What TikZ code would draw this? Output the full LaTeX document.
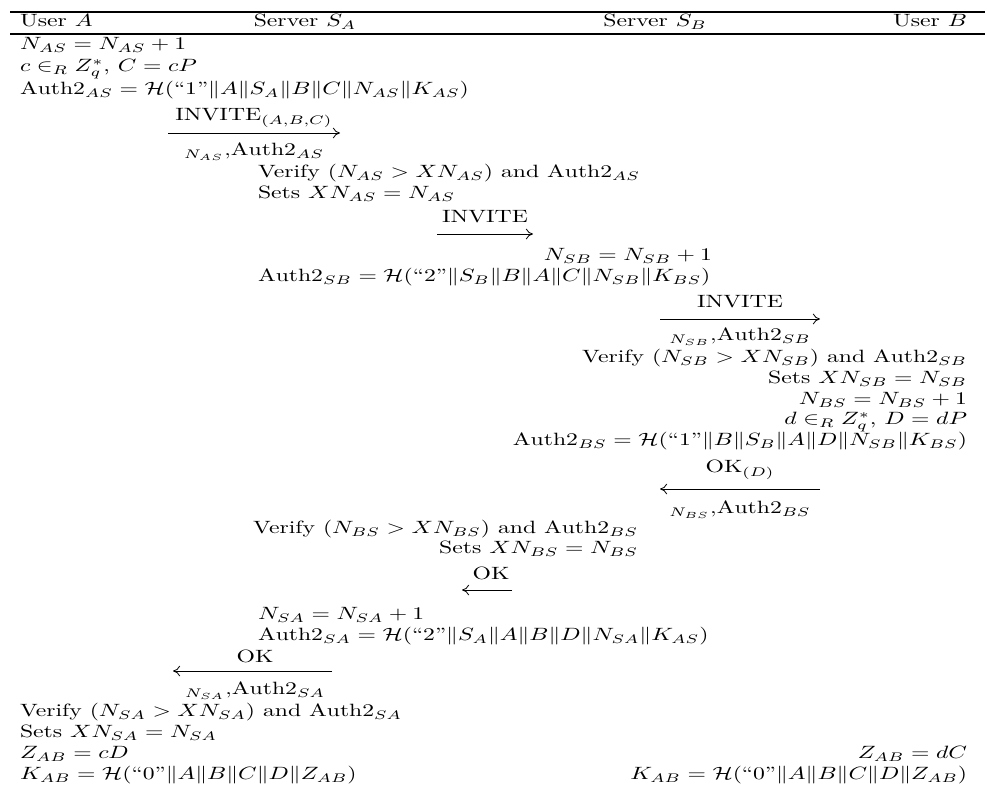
\documentclass[tikz,border=0pt]{standalone}
\usepackage{amsmath}
\usepackage{graphicx}
\usetikzlibrary{arrows.meta}
% horizontal stretch applied to every label
\newcommand{\myxs}{1.33}
\newcommand{\sx}[1]{\scalebox{\myxs}[1]{#1}}
\newcommand{\hh}{\mathcal{H}}
\newcommand{\au}{\mathrm{Auth2}}
\begin{document}
\begin{tikzpicture}[x=0.5618pt,y=-0.5618pt,
  lft/.style={anchor=mid west,inner sep=0pt,outer sep=0pt},
  rgt/.style={anchor=mid east,inner sep=0pt,outer sep=0pt},
  ctr/.style={anchor=mid,inner sep=0pt,outer sep=0pt},
  rule/.style={line width=0.75pt},
  msg/.style={line width=0.45pt,-{Computer Modern Rightarrow[length=4pt,width=6pt]}}]
\useasboundingbox (0,0) rectangle (987,794);

% header rules and column titles
\coordinate (r1l) at (10,12);  \coordinate (r1r) at (985,12);
\coordinate (r2l) at (10,34);  \coordinate (r2r) at (985,34);
\draw[rule] (r1l) -- (r1r);
\draw[rule] (r2l) -- (r2r);
\node[lft] (hA)  at (20,23)  {\sx{User $A$}};
\node[ctr] (hSA) at (305,23) {\sx{Server $S_A$}};
\node[ctr] (hSB) at (655,23) {\sx{Server $S_B$}};
\node[rgt] (hB)  at (967,23) {\sx{User $B$}};

% user A: first message
\node[lft] (a1) at (20,46) {\sx{$N_{AS}=N_{AS}+1$}};
\node[lft] (a2) at (20,68) {\sx{$c\in_R Z_q^*$, $C=cP$}};
\node[lft] (a3) at (20,91) {\sx{$\au_{AS}=\hh(\text{``1''}\|A\|S_A\|B\|C\|N_{AS}\|K_{AS})$}};

\coordinate (m1s) at (168,133); \coordinate (m1e) at (340,133);
\draw[msg] (m1s) -- (m1e);
\node[ctr] (m1t) at (254,117) {\sx{$\mathrm{INVITE}_{(A,B,C)}$}};
\node[ctr] (m1b) at (254,152) {\sx{$_{N_{AS}}{,}\au_{AS}$}};

% server S_A
\node[lft] (sa1) at (258,174) {\sx{Verify $(N_{AS}>XN_{AS})$ and $\au_{AS}$}};
\node[lft] (sa2) at (258,195) {\sx{Sets $XN_{AS}=N_{AS}$}};

\coordinate (m2s) at (437,234); \coordinate (m2e) at (533,234);
\draw[msg] (m2s) -- (m2e);
\node[ctr] (m2t) at (485,219) {\sx{INVITE}};

% server S_B
\node[rgt] (sb1) at (712,257) {\sx{$N_{SB}=N_{SB}+1$}};
\node[lft] (sb2) at (258,278) {\sx{$\au_{SB}=\hh(\text{``2''}\|S_B\|B\|A\|C\|N_{SB}\|K_{BS})$}};

\coordinate (m3s) at (660,319); \coordinate (m3e) at (820,319);
\draw[msg] (m3s) -- (m3e);
\node[ctr] (m3t) at (740,304) {\sx{INVITE}};
\node[ctr] (m3b) at (740,337) {\sx{$_{N_{SB}}{,}\au_{SB}$}};

% user B
\node[rgt] (b1) at (967,359) {\sx{Verify $(N_{SB}>XN_{SB})$ and $\au_{SB}$}};
\node[rgt] (b2) at (967,380) {\sx{Sets $XN_{SB}=N_{SB}$}};
\node[rgt] (b3) at (967,401) {\sx{$N_{BS}=N_{BS}+1$}};
\node[rgt] (b4) at (967,421) {\sx{$d\in_R Z_q^*$, $D=dP$}};
\node[rgt] (b5) at (967,442) {\sx{$\au_{BS}=\hh(\text{``1''}\|B\|S_B\|A\|D\|N_{SB}\|K_{BS})$}};

\coordinate (m4s) at (820,489); \coordinate (m4e) at (660,489);
\draw[msg] (m4s) -- (m4e);
\node[ctr] (m4t) at (740,469) {\sx{$\mathrm{OK}_{(D)}$}};
\node[ctr] (m4b) at (740,510) {\sx{$_{N_{BS}}{,}\au_{BS}$}};

% server S_B checks the reply
\node[rgt] (sb3) at (638,530) {\sx{Verify $(N_{BS}>XN_{BS})$ and $\au_{BS}$}};
\node[rgt] (sb4) at (638,550) {\sx{Sets $XN_{BS}=N_{BS}$}};

\coordinate (m5s) at (512,590); \coordinate (m5e) at (462,590);
\draw[msg] (m5s) -- (m5e);
\node[ctr] (m5t) at (491,576) {\sx{OK}};

% server S_A
\node[lft] (sa3) at (258,616) {\sx{$N_{SA}=N_{SA}+1$}};
\node[lft] (sa4) at (258,637) {\sx{$\au_{SA}=\hh(\text{``2''}\|S_A\|A\|B\|D\|N_{SA}\|K_{AS})$}};

\coordinate (m6s) at (332,671); \coordinate (m6e) at (173,671);
\draw[msg] (m6s) -- (m6e);
\node[ctr] (m6t) at (255,659) {\sx{OK}};
\node[ctr] (m6b) at (255,691) {\sx{$_{N_{SA}}{,}\au_{SA}$}};

% user A: session key
\node[lft] (a4) at (20,713) {\sx{Verify $(N_{SA}>XN_{SA})$ and $\au_{SA}$}};
\node[lft] (a5) at (20,734) {\sx{Sets $XN_{SA}=N_{SA}$}};
\node[lft] (a6) at (20,755) {\sx{$Z_{AB}=cD$}};
\node[lft] (a7) at (20,776) {\sx{$K_{AB}=\hh(\text{``0''}\|A\|B\|C\|D\|Z_{AB})$}};

% user B: session key
\node[rgt] (b6) at (967,755) {\sx{$Z_{AB}=dC$}};
\node[rgt] (b7) at (967,776) {\sx{$K_{AB}=\hh(\text{``0''}\|A\|B\|C\|D\|Z_{AB})$}};
\end{tikzpicture}
\end{document}
